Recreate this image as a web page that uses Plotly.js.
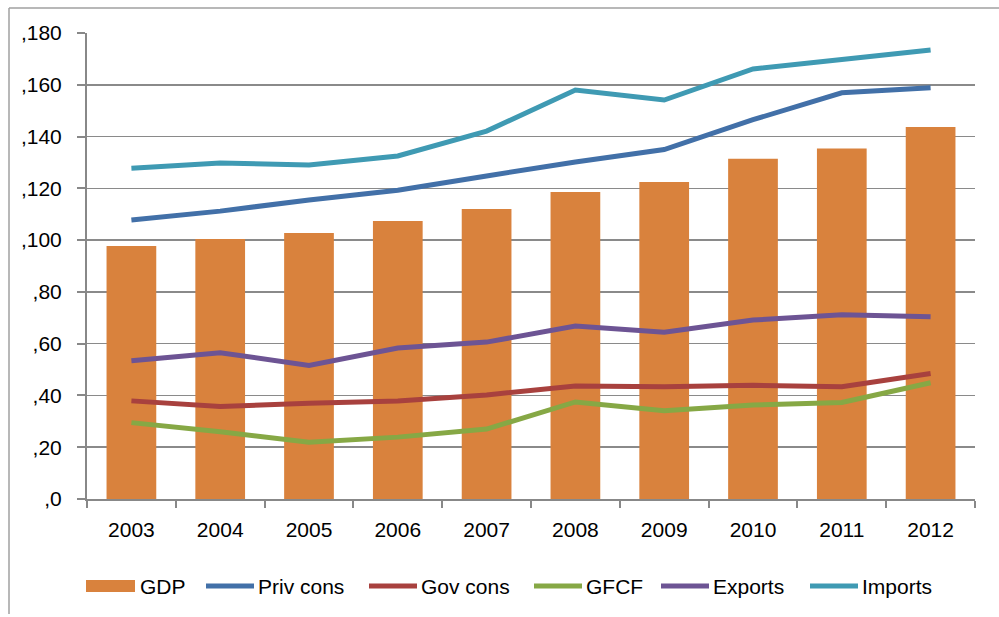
<!DOCTYPE html>
<html>
<head>
<meta charset="utf-8">
<script src="https://cdn.plot.ly/plotly-3.0.1.min.js"></script>
<style>html,body{margin:0;padding:0;background:#fff;}#chart{width:999px;height:617px;}</style>
</head>
<body>
<div id="chart"></div>
<script>
const years = ["2003","2004","2005","2006","2007","2008","2009","2010","2011","2012"];
const gdp      = [97.7, 100.4, 102.7, 107.4, 112.0, 118.6, 122.4, 131.4, 135.4, 143.7];
const privCons = [107.8, 111.2, 115.5, 119.3, 124.8, 130.2, 135.0, 146.5, 156.9, 158.9];
const govCons  = [37.9, 35.7, 37.0, 37.9, 40.2, 43.6, 43.4, 43.9, 43.4, 48.5];
const gfcf     = [29.5, 26.0, 21.9, 23.9, 27.0, 37.5, 34.1, 36.3, 37.3, 44.9];
const exportsV = [53.4, 56.5, 51.6, 58.3, 60.6, 66.8, 64.4, 69.1, 71.2, 70.4];
const importsV = [127.8, 129.8, 129.0, 132.5, 142.1, 158.0, 154.1, 166.1, 169.8, 173.4];
const seriesNames = ["GDP", "Priv cons", "Gov cons", "GFCF", "Exports", "Imports"];
const yTickVals = [0, 20, 40, 60, 80, 100, 120, 140, 160, 180];
const yTickText = [",0", ",20", ",40", ",60", ",80", ",100", ",120", ",140", ",160", ",180"];

const colors = ["#D9823D", "#4270A8", "#A8413E", "#86A845", "#6D5494", "#3F9AB3"];
const font = "Liberation Sans, Arial, sans-serif";
const fs = 21;

function line(i, y) {
  return {type: "scatter", mode: "lines", name: seriesNames[i], x: years, y: y,
          line: {color: colors[i], width: 5}};
}
const data = [
  {type: "bar", name: seriesNames[0], x: years, y: gdp, marker: {color: colors[0]}},
  line(1, privCons), line(2, govCons), line(3, gfcf), line(4, exportsV), line(5, importsV)
];

// custom legend (Excel-style long symbols), positioned in paper coordinates
const plotL = 87, plotW = 888, plotB = 499, plotH = 466;
const px = v => (v - plotL) / plotW;
const py = v => (plotB - v) / plotH;
const legendSymX = [86, 204, 367, 532, 659, 808];
const legendY = 586;
const shapes = [
  {type: "line", xref: "paper", yref: "paper", x0: px(9), x1: px(1005), y0: py(8), y1: py(8),
   line: {color: "#a0a0a0", width: 1.5}},
  {type: "line", xref: "paper", yref: "paper", x0: px(9), x1: px(9), y0: py(8), y1: py(614),
   line: {color: "#a0a0a0", width: 1.5}}
];
const annotations = [];
seriesNames.forEach((n, i) => {
  const x0 = legendSymX[i];
  if (i === 0) {
    shapes.push({type: "rect", xref: "paper", yref: "paper", x0: px(x0), x1: px(x0 + 49),
                 y0: py(legendY - 6), y1: py(legendY + 6), fillcolor: colors[i], line: {width: 0}});
  } else {
    shapes.push({type: "line", xref: "paper", yref: "paper", x0: px(x0 + 2), x1: px(x0 + 50),
                 y0: py(legendY), y1: py(legendY), line: {color: colors[i], width: 5}});
  }
  annotations.push({xref: "paper", yref: "paper", x: px(x0 + 52), y: py(legendY),
                    xanchor: "left", yanchor: "middle", showarrow: false, text: n,
                    font: {family: font, size: fs, color: "#000"}});
});

const layout = {
  width: 999, height: 617,
  margin: {l: 87, r: 24, t: 33, b: 118},
  paper_bgcolor: "#fff", plot_bgcolor: "#fff",
  font: {family: font, size: fs, color: "#000"},
  bargap: 0.44,
  showlegend: false,
  xaxis: {type: "category", showgrid: false, showline: true, linecolor: "#888", linewidth: 2,
          ticks: "outside", tickson: "boundaries", ticklen: 7, tickcolor: "#888", tickwidth: 2,
          ticklabelstandoff: 11, tickfont: {family: font, size: fs}},
  yaxis: {range: [0, 180], tickvals: yTickVals, ticktext: yTickText, showgrid: true,
          gridcolor: "#8a8a8a", gridwidth: 1.5, showline: true, linecolor: "#888", linewidth: 2,
          ticks: "outside", ticklen: 8, tickcolor: "#888", tickwidth: 2, zeroline: false,
          ticklabelstandoff: 11, tickfont: {family: font, size: fs}},
  shapes: shapes,
  annotations: annotations
};
Plotly.newPlot("chart", data, layout, {displayModeBar: false, staticPlot: true});
</script>
</body>
</html>
